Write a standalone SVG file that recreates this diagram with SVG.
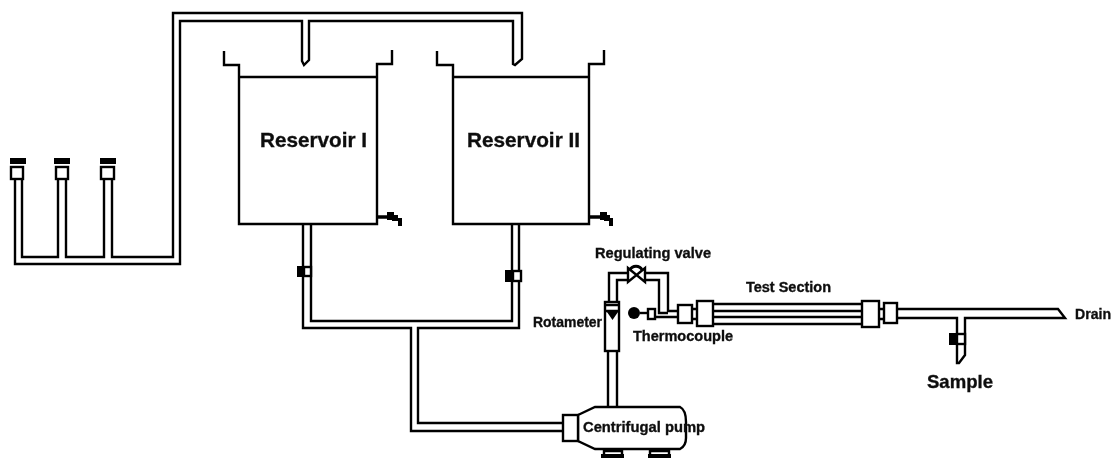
<svg xmlns="http://www.w3.org/2000/svg" width="1117" height="458" viewBox="0 0 1117 458">
<defs>
<filter id="soft" x="-2%" y="-2%" width="104%" height="104%"><feGaussianBlur stdDeviation="0.6"/></filter>
</defs>
<style>
.p{fill:none;stroke:#000;stroke-width:2.4;stroke-linejoin:miter}
.b{fill:#fff;stroke:#000;stroke-width:2.4}
.k{fill:#000;stroke:none}
.t{font-family:"Liberation Sans",Arial,sans-serif;font-weight:bold;fill:#111;stroke:#111;stroke-width:.35}
</style>
<rect width="1117" height="458" fill="#fff"/>
<g filter="url(#soft)">
<g id="connectors">
<path class="p" d="M15 178V264H180V21H302V61L304 65L309 60V21H513V64L515 65L522 59V13H173V257H112V178M104 178V257H66V178M58 178V257H22V178"/>
<path class="p" d="M303 224V328H411V431H563M311 224V321H512V224M519 224V328H418V423H563"/>
<path class="p" d="M608 407V351M617 407V351"/>
<path class="p" d="M609 302V273H628M617 302V280H628M645 273H668V311H678M645 280H659V313H668M655 317H678"/>
<path class="p" d="M640 313H648"/>
<path class="p" d="M692 309H697M692 319H697"/>
<path class="p" d="M713 304H862M713 311H862M713 317H862M713 324H862"/>
<path class="p" d="M879 309H884M879 319H884"/>
<path class="p" d="M897 309H1058L1065 318H965V355L959 363H957V318H897"/>
</g>
<g id="filter-1"><rect class="k" x="10" y="158" width="16" height="6"/><rect class="b" x="11" y="167" width="12" height="12"/></g>
<g id="filter-2"><rect class="k" x="54" y="158" width="16" height="6"/><rect class="b" x="56" y="167" width="12" height="12"/></g>
<g id="filter-3"><rect class="k" x="100" y="158" width="16" height="6"/><rect class="b" x="101" y="167" width="13" height="12"/></g>
<g id="reservoir-1">
<path class="p" d="M224 51V65H239V224H377V64H392V50M239 77H377"/>
<path class="p" d="M377 217H395" style="stroke-width:3.500"/>
<path class="k" d="M387 212H394V215H398V218H402V226H398V221H392V220H387Z"/>
<text class="t" x="260" y="147" font-size="20.500" textLength="107" lengthAdjust="spacingAndGlyphs">Reservoir I</text>
</g>
<g id="reservoir-2">
<path class="p" d="M437 51V65H453V224H589V64H604V50M453 77H589"/>
<path class="p" d="M589 217H606" style="stroke-width:3.500"/>
<path class="k" d="M600 212H607V215H610V218H613V226H609V221H604V220H600Z"/>
<text class="t" x="467" y="147" font-size="20.500" textLength="113" lengthAdjust="spacingAndGlyphs">Reservoir II</text>
</g>
<g id="valve-1"><rect class="k" x="297" y="266" width="7" height="11"/><rect class="b" x="304" y="267" width="7" height="9"/></g>
<g id="valve-2"><rect class="k" x="505" y="270" width="8" height="12"/><rect class="b" x="513" y="271" width="8" height="10"/></g>
<g id="pump">
<path class="b" d="M578 415L595 407H680Q686 410 686 422V438Q686 446 680 449H595L578 441Z"/>
<rect class="b" x="563" y="415" width="15" height="26"/>
<path class="p" d="M604 449V455M622 449V455M650 449V455M669 449V455M604 451H622M650 451H669"/>
<rect class="k" x="601" y="454" width="23" height="4"/>
<rect class="k" x="648" y="454" width="23" height="4"/>
<text class="t" x="583" y="432" font-size="14.700" textLength="122" lengthAdjust="spacingAndGlyphs">Centrifugal pump</text>
</g>
<g id="rotameter">
<rect class="b" x="605" y="302" width="14" height="49"/>
<path class="p" d="M606 305H618M606 311H618"/>
<path class="k" d="M607 312H618L612.500 320Z"/>
<text class="t" x="533" y="327" font-size="14" textLength="69" lengthAdjust="spacingAndGlyphs">Rotameter</text>
</g>
<g id="regulating-valve">
<path class="p" d="M630 270A6.500 6 0 0 1 642 270" style="stroke-width:3"/>
<path class="p" d="M628 268L645 282V268L628 282Z"/>
<text class="t" x="595" y="258" font-size="14.500" textLength="116" lengthAdjust="spacingAndGlyphs">Regulating valve</text>
</g>
<g id="thermocouple">
<circle class="k" cx="634" cy="313" r="6"/>
<rect class="b" x="648" y="309" width="7" height="10"/>
<text class="t" x="633" y="341" font-size="14.500" textLength="100" lengthAdjust="spacingAndGlyphs">Thermocouple</text>
</g>
<g id="test-section">
<rect class="b" x="678" y="305" width="14" height="18"/>
<rect class="b" x="697" y="301" width="16" height="25"/>
<rect class="b" x="862" y="301" width="17" height="26"/>
<rect class="b" x="884" y="303" width="13" height="20"/>
<text class="t" x="746" y="292" font-size="14.300" textLength="85" lengthAdjust="spacingAndGlyphs">Test Section</text>
</g>
<g id="drain"><text class="t" x="1075" y="319" font-size="14" textLength="36" lengthAdjust="spacingAndGlyphs">Drain</text></g>
<g id="sample">
<rect class="k" x="949" y="333" width="8" height="12"/>
<rect class="b" x="957" y="334" width="8" height="10"/>
<text class="t" x="927" y="388" font-size="18.500" textLength="66" lengthAdjust="spacingAndGlyphs">Sample</text>
</g>
</g>
</svg>
